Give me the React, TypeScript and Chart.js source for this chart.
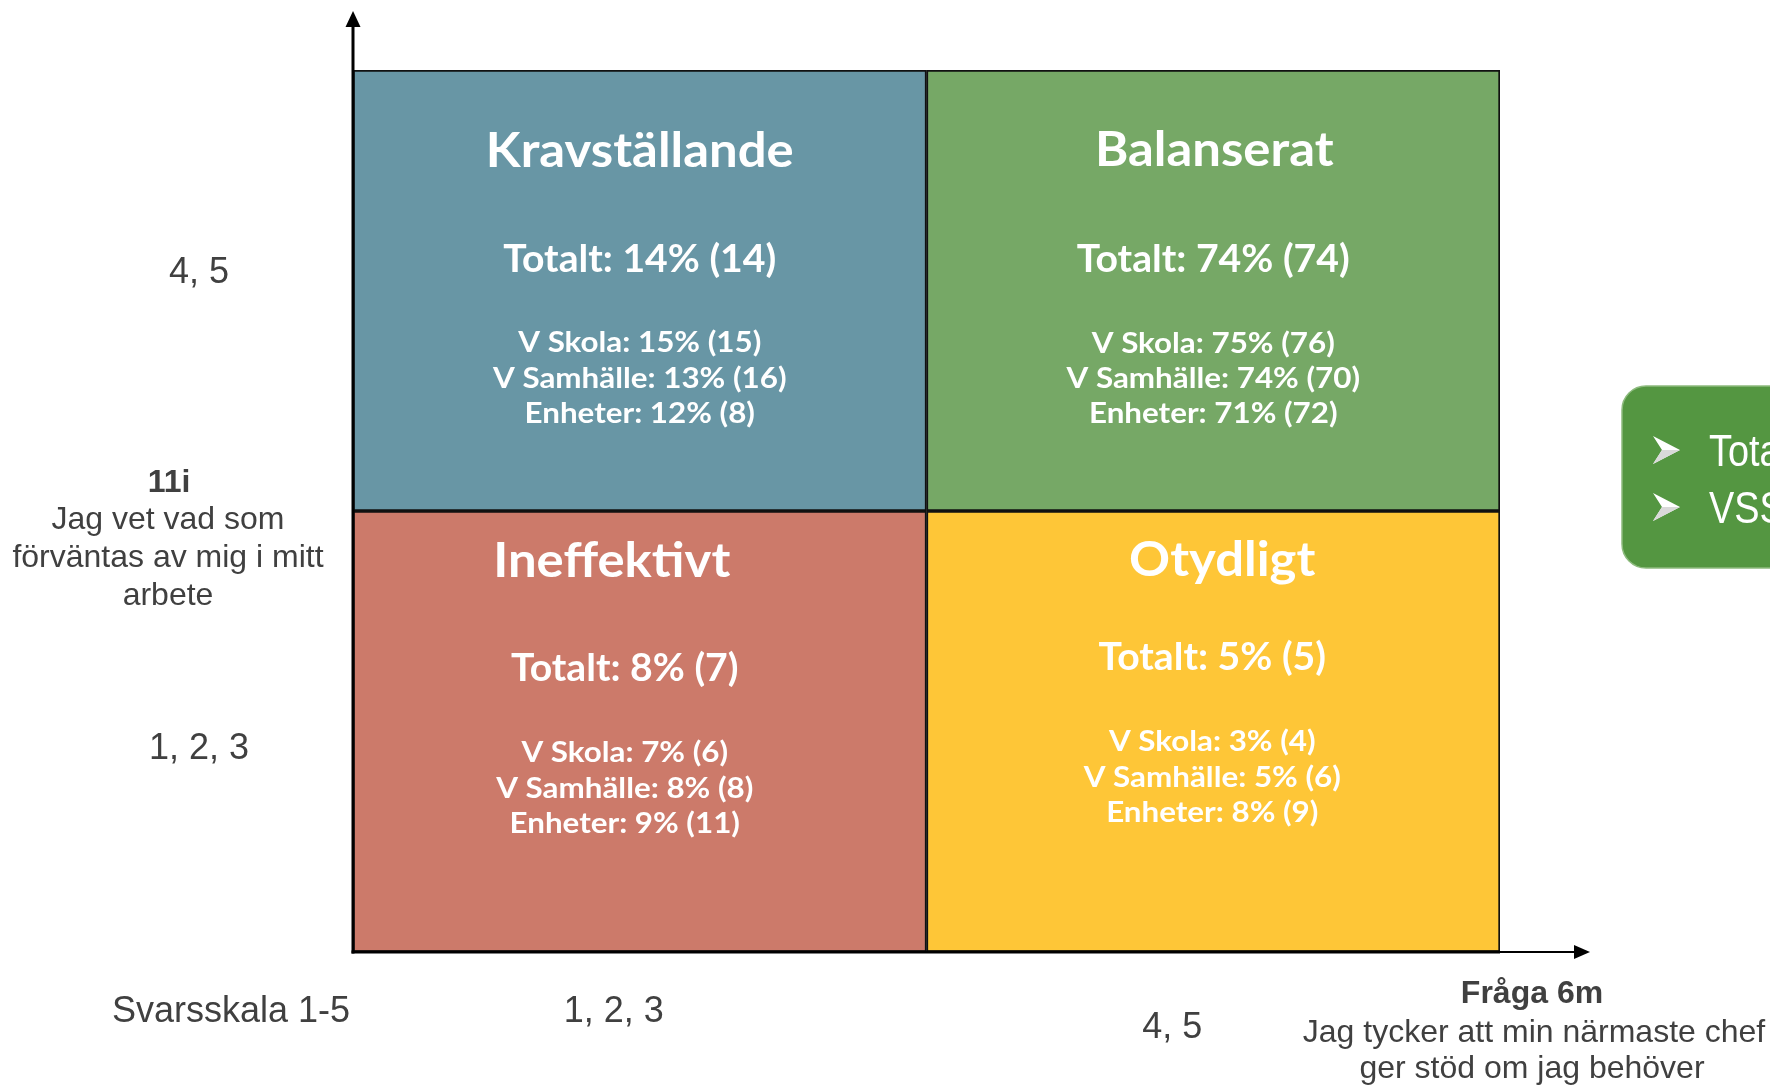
import React, { useEffect, useRef } from "react";
import { Chart, registerables } from "chart.js";

Chart.register(...registerables);

// ---- Data ----
const xCategories = ["1, 2, 3", "4, 5"]; // Fråga 6m answer groups
const yCategories = ["1, 2, 3", "4, 5"]; // 11i answer groups
// quadrant order: [low-x/low-y, high-x/low-y, low-x/high-y, high-x/high-y]
const quadrantNames = ["Ineffektivt", "Otydligt", "Kravställande", "Balanserat"];
const quadrantColors = ["#CC7A6A", "#FEC637", "#6896A5", "#76A866"];
const totalPct = [8, 5, 14, 74];
const totalN = [7, 5, 14, 74];
const skolaPct = [7, 3, 15, 75];
const skolaN = [6, 4, 15, 76];
const samhallePct = [8, 5, 13, 74];
const samhalleN = [8, 6, 16, 70];
const enheterPct = [9, 8, 12, 71];
const enheterN = [11, 9, 8, 72];
const cellSize = [1, 1]; // each answer-group cell spans one unit per row

const yAxisTitle = ["11i", "Jag vet vad som", "förväntas av mig i mitt", "arbete"];
const xAxisTitle = ["Fråga 6m", "Jag tycker att min närmaste chef", "ger stöd om jag behöver"];
const scaleLabel = "Svarsskala 1-5";
const calloutLines = ["Totalt", "VSS"];

// ---- Layout (text offsets inside quadrants, relative to quadrant top / centre) ----
const quadLayout = [
  { dxTitle: -28, dxBody: -15, title: 66, total: 170, subs: [251, 287, 322] },
  { dxTitle: 9, dxBody: -1, title: 65, total: 159, subs: [240, 276, 311] },
  { dxTitle: 0, dxBody: 0, title: 97, total: 202, subs: [282, 318, 353] },
  { dxTitle: 1, dxBody: 0, title: 96, total: 202, subs: [283, 318, 353] },
];

const TEXT_GRAY = "#404040";
const QFONT = "Lato, 'Open Sans', sans-serif";
const AFONT = "'Liberation Sans', Arial, sans-serif";

function stretchText(ctx: CanvasRenderingContext2D, text: string, x: number, y: number, sx: number) {
  ctx.save();
  ctx.translate(x, y);
  ctx.scale(sx, 1);
  ctx.fillText(text, 0, 0);
  ctx.restore();
}

const overlayPlugin = {
  id: "quadOverlay",
  afterDatasetsDraw(chart: any) {
    const ctx: CanvasRenderingContext2D = chart.ctx;
    const { left, right, top, bottom } = chart.chartArea;
    const xs = chart.scales.x;
    const ys = chart.scales.y;

    ctx.save();
    // quadrant texts
    quadrantNames.forEach((name, i) => {
      const col = i % 2;
      const row = Math.floor(i / 2);
      const cx = xs.getPixelForValue(col);
      const qTop = ys.getPixelForValue(row + 1);
      const L = quadLayout[i];
      ctx.fillStyle = "#ffffff";
      ctx.textAlign = "center";
      ctx.textBaseline = "alphabetic";
      ctx.font = `700 48px ${QFONT}`;
      stretchText(ctx, name, cx + L.dxTitle, qTop + L.title, 1.06);
      ctx.font = `700 38px ${QFONT}`;
      stretchText(ctx, `Totalt: ${totalPct[i]}% (${totalN[i]})`, cx + L.dxBody, qTop + L.total, 1.03);
      ctx.font = `700 28px ${QFONT}`;
      stretchText(ctx, `V Skola: ${skolaPct[i]}% (${skolaN[i]})`, cx + L.dxBody, qTop + L.subs[0], 1.12);
      stretchText(ctx, `V Samhälle: ${samhallePct[i]}% (${samhalleN[i]})`, cx + L.dxBody, qTop + L.subs[1], 1.12);
      stretchText(ctx, `Enheter: ${enheterPct[i]}% (${enheterN[i]})`, cx + L.dxBody, qTop + L.subs[2], 1.12);
    });

    // axes with arrows
    ctx.strokeStyle = "#000";
    ctx.fillStyle = "#000";
    ctx.lineWidth = 3;
    ctx.beginPath();
    ctx.moveTo(left, bottom + 1.5);
    ctx.lineTo(left, top - 44);
    ctx.stroke();
    ctx.beginPath();
    ctx.moveTo(left - 7.5, top - 43);
    ctx.lineTo(left + 7.5, top - 43);
    ctx.lineTo(left, top - 59);
    ctx.closePath();
    ctx.fill();

    ctx.beginPath();
    ctx.moveTo(left - 1.5, bottom);
    ctx.lineTo(right, bottom);
    ctx.stroke();
    ctx.lineWidth = 2;
    ctx.beginPath();
    ctx.moveTo(right, bottom);
    ctx.lineTo(right + 76, bottom);
    ctx.stroke();
    ctx.beginPath();
    ctx.moveTo(right + 74, bottom - 7);
    ctx.lineTo(right + 74, bottom + 7);
    ctx.lineTo(right + 90, bottom);
    ctx.closePath();
    ctx.fill();

    // axis tick labels
    ctx.fillStyle = TEXT_GRAY;
    ctx.textAlign = "center";
    ctx.font = `36px ${AFONT}`;
    ctx.fillText(yCategories[1], left - 154, ys.getPixelForValue(1.5) - 8);
    ctx.fillText(yCategories[0], left - 154, ys.getPixelForValue(0.5) + 27);
    ctx.fillText(xCategories[0], xs.getPixelForValue(0) - 26, bottom + 70);
    ctx.fillText(xCategories[1], xs.getPixelForValue(1) - 41, bottom + 86);
    ctx.fillText(scaleLabel, left - 122, bottom + 70);

    // y axis title
    const mid = ys.getPixelForValue(1);
    ctx.font = `700 32px ${AFONT}`;
    ctx.fillText(yAxisTitle[0], left - 184, mid - 19);
    ctx.font = `32px ${AFONT}`;
    ctx.fillText(yAxisTitle[1], left - 185, mid + 18);
    ctx.fillText(yAxisTitle[2], left - 185, mid + 56);
    ctx.fillText(yAxisTitle[3], left - 185, mid + 94);

    // x axis title
    ctx.font = `700 32px ${AFONT}`;
    ctx.fillText(xAxisTitle[0], right + 32, bottom + 51);
    ctx.font = `32px ${AFONT}`;
    ctx.fillText(xAxisTitle[1], right + 34, bottom + 90);
    ctx.fillText(xAxisTitle[2], right + 32, bottom + 126);

    // callout box (cut off by the right edge)
    const bx = right + 122;
    const by = ys.getPixelForValue(1) - 125;
    ctx.beginPath();
    ctx.roundRect(bx, by, 300, 182, 24);
    ctx.fillStyle = "#549641";
    ctx.fill();
    ctx.lineWidth = 1.5;
    ctx.strokeStyle = "#8DBB7E";
    ctx.stroke();
    calloutLines.forEach((t, k) => {
      const cy = by + 64 + k * 57;
      const ax = bx + 31;
      ctx.beginPath();
      ctx.moveTo(ax + 27, cy);
      ctx.lineTo(ax, cy - 14);
      ctx.lineTo(ax + 9, cy);
      ctx.lineTo(ax, cy + 14);
      ctx.closePath();
      ctx.fillStyle = "#ffffff";
      ctx.fill();
      ctx.beginPath();
      ctx.moveTo(ax + 27, cy);
      ctx.lineTo(ax + 9, cy);
      ctx.lineTo(ax, cy + 14);
      ctx.closePath();
      ctx.fillStyle = "#d9d9d9";
      ctx.fill();
      ctx.fillStyle = "#ffffff";
      ctx.textAlign = "left";
      ctx.font = `44px ${AFONT}`;
      stretchText(ctx, t, bx + 87, cy + 16, 0.86);
    });
    ctx.restore();
  },
};

export default function App() {
  const ref = useRef<HTMLCanvasElement | null>(null);

  useEffect(() => {
    document.body.style.margin = "0";
    const canvas = ref.current;
    if (!canvas) return;
    const chart = new Chart(canvas, {
      type: "bar",
      data: {
        labels: xCategories,
        datasets: [
          {
            label: yCategories[0],
            data: cellSize,
            backgroundColor: [quadrantColors[0], quadrantColors[1]],
            borderColor: "#111111",
            borderWidth: 2,
            borderSkipped: false,
            barPercentage: 1,
            categoryPercentage: 1,
          },
          {
            label: yCategories[1],
            data: cellSize,
            backgroundColor: [quadrantColors[2], quadrantColors[3]],
            borderColor: "#111111",
            borderWidth: 2,
            borderSkipped: false,
            barPercentage: 1,
            categoryPercentage: 1,
          },
        ],
      },
      options: {
        responsive: false,
        devicePixelRatio: 1,
        animation: false,
        layout: { padding: { left: 353, right: 270, top: 70, bottom: 135 } },
        plugins: { legend: { display: false }, tooltip: { enabled: false } },
        scales: {
          x: { display: false, stacked: true },
          y: { display: false, stacked: true, min: 0, max: 2 },
        },
      },
      plugins: [overlayPlugin],
    });
    return () => chart.destroy();
  }, []);

  return (
    <canvas
      ref={ref}
      width={1770}
      height={1087}
      style={{ position: "absolute", left: 0, top: 0, display: "block", background: "#fff" }}
    />
  );
}
